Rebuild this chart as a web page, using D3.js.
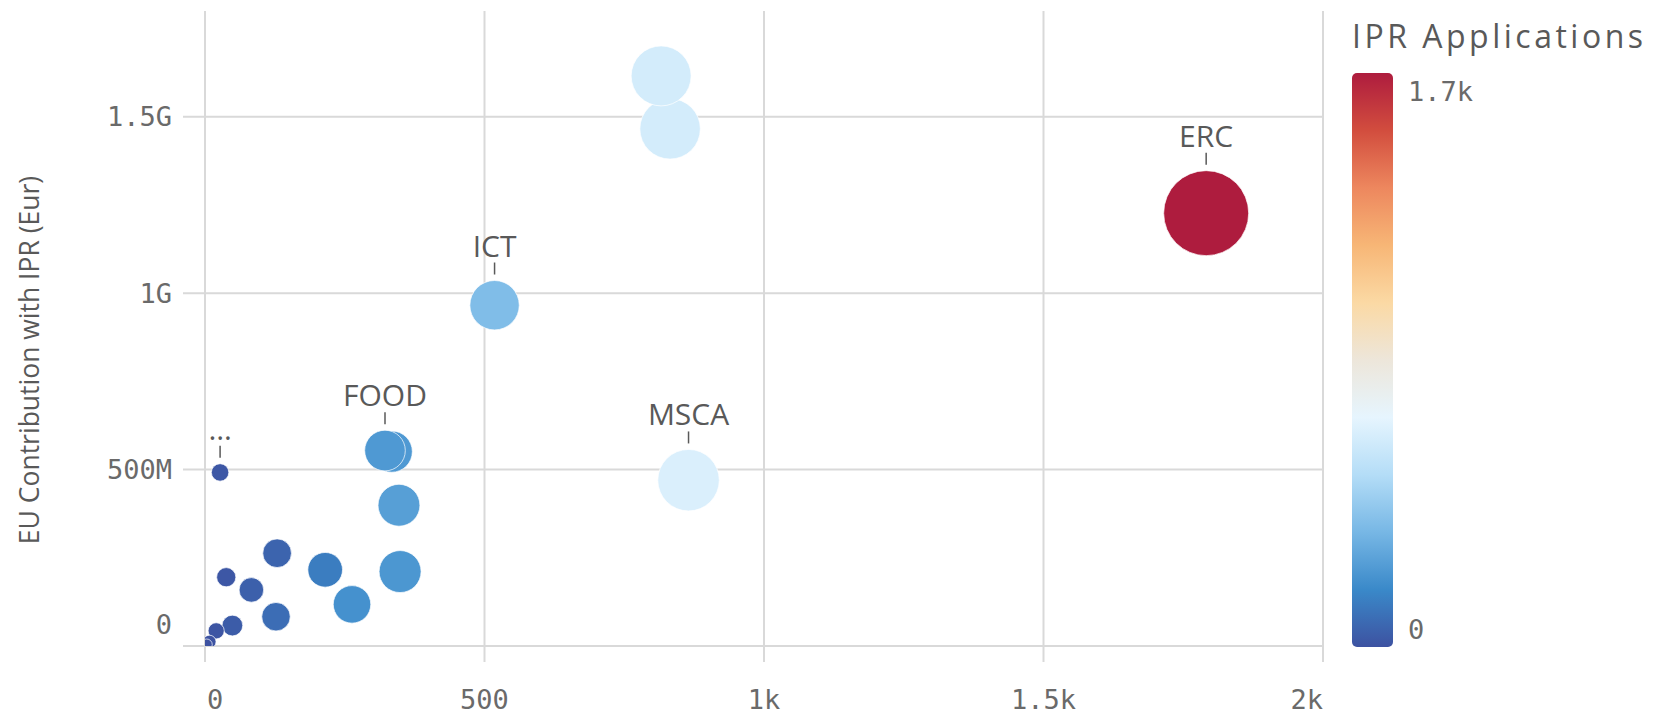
<!DOCTYPE html>
<html>
<head>
<meta charset="utf-8">
<script src="https://cdn.jsdelivr.net/npm/d3@7"></script>
<style>
  html, body { margin: 0; padding: 0; background: #fff; }
  svg { display: block; }
  .grid line { stroke: #d9d9d9; stroke-width: 2; }
  .tick-label { font-family: "DejaVu Sans Mono", monospace; font-size: 27px; fill: #6a6a6a; }
  .bubble-label { font-family: "Open Sans", sans-serif; font-size: 30px; fill: #595959; }
</style>
</head>
<body>
<svg id="chart"></svg>
<script>
// bubbles: x = IPR count (also drives size), y = EU contribution, colour = IPR applications
const labels = ['ERC', 'MSCA', '', '', 'ICT', 'FOOD', '', '', '', '', '', '', '', '', '', '', '', '\u2026', '', ''];
const iprCount = [1791, 865, 816, 832, 518, 322, 334, 347, 349, 263, 215, 129, 127, 83, 38, 49, 20, 27, 8, 3];
const euContribution = [1227e6, 470e6, 1616e6, 1466e6, 966e6, 554e6, 551e6, 399e6, 211e6, 118e6,
  216e6, 263e6, 83e6, 159e6, 195e6, 58e6, 43e6, 492e6, 12e6, 4e6];
const iprApplications = [1700, 640, 615, 615, 365, 228, 228, 250, 220, 200, 133, 56, 83, 42, 15, 30, 10, 15, 3, 1];

const xTicks = [0, 500, 1000, 1500, 2000];
const yTicks = [0, 500e6, 1e9, 1.5e9];
const colorStops = ['#3D52A1', '#3A89C9', '#77B7E5', '#B4DDF7', '#E6F5FE', '#EDE6DA',
  '#FBD9A4', '#F7B676', '#ED875E', '#D24D3E', '#AE1C3E'];
const colorMax = 1700;

const width = 1656, height = 717;
const plot = { left: 205, right: 1323, top: 11, bottom: 646 };

const svg = d3.select('#chart')
  .attr('width', width)
  .attr('height', height)
  .attr('viewBox', `0 0 ${width} ${height}`);

const x = d3.scaleLinear().domain([0, 2000]).range([plot.left, plot.right]);
const y = d3.scaleLinear().domain([0, 1.8e9]).range([plot.bottom, plot.top]);
const r = d3.scaleSqrt().domain([0, d3.max(iprCount)]).range([4, 42.5]);
const color = d3.scaleLinear()
  .domain(colorStops.map((c, i) => i / (colorStops.length - 1) * colorMax))
  .range(colorStops);

const data = iprCount.map((v, i) => ({
  label: labels[i], x: v, y: euContribution[i], c: iprApplications[i]
}));

// grid
const grid = svg.append('g').attr('class', 'grid');
grid.append('g').selectAll('line').data(xTicks).join('line')
  .attr('x1', d => x(d)).attr('x2', d => x(d))
  .attr('y1', plot.top).attr('y2', plot.bottom + 16);
grid.append('g').selectAll('line').data(yTicks).join('line')
  .attr('x1', plot.left - 22).attr('x2', plot.right)
  .attr('y1', d => y(d)).attr('y2', d => y(d));

// axis labels
const fmt = d3.format('~s');
svg.append('g').selectAll('text').data(xTicks).join('text')
  .attr('class', 'tick-label')
  .attr('x', (d, i) => i === 0 ? x(d) + 2 : x(d))
  .attr('y', 700)
  .attr('dy', '0.35em')
  .attr('text-anchor', (d, i) => i === 0 ? 'start' : (i === xTicks.length - 1 ? 'end' : 'middle'))
  .text(d => fmt(d));

svg.append('g').selectAll('text').data(yTicks).join('text')
  .attr('class', 'tick-label')
  .attr('x', 172)
  .attr('y', d => d === 0 ? y(d) - 21 : y(d))
  .attr('dy', '0.35em')
  .attr('text-anchor', 'end')
  .text(d => fmt(d));

svg.append('text')
  .attr('transform', `translate(30, 360) rotate(-90)`)
  .attr('text-anchor', 'middle')
  .attr('dy', '0.35em')
  .style('font-family', '"Open Sans", sans-serif')
  .style('font-size', '26.5px')
  .style('fill', '#595959')
  .text('EU Contribution with IPR (Eur)');

// bubbles
svg.append('defs').append('clipPath').attr('id', 'plot-clip')
  .append('rect')
  .attr('x', plot.left).attr('y', plot.top)
  .attr('width', plot.right - plot.left).attr('height', plot.bottom - plot.top);

const sorted = data.slice().sort((a, b) => b.x - a.x);
svg.append('g').attr('clip-path', 'url(#plot-clip)')
  .selectAll('circle').data(sorted).join('circle')
  .attr('cx', d => x(d.x))
  .attr('cy', d => y(d.y))
  .attr('r', d => r(d.x))
  .attr('fill', d => color(d.c))
  .attr('stroke', '#fff')
  .attr('stroke-opacity', 0.7)
  .attr('stroke-width', 1);

// bubble labels
const lab = svg.append('g').selectAll('g').data(data.filter(d => d.label)).join('g')
  .attr('transform', d => `translate(${x(d.x)}, ${y(d.y) - r(d.x)})`);
lab.append('line')
  .attr('y1', -6).attr('y2', -18)
  .attr('stroke', '#595959').attr('stroke-width', 1.5);
lab.append('text')
  .attr('class', 'bubble-label')
  .attr('y', -24)
  .attr('text-anchor', 'middle')
  .text(d => d.label);

// legend
const legend = { x: 1352, top: 73, bottom: 647, w: 41 };
const grad = svg.select('defs').append('linearGradient')
  .attr('id', 'legend-grad')
  .attr('x1', 0).attr('y1', 1).attr('x2', 0).attr('y2', 0);
grad.selectAll('stop').data(colorStops).join('stop')
  .attr('offset', (d, i) => i / (colorStops.length - 1))
  .attr('stop-color', d => d);

svg.append('rect')
  .attr('x', legend.x).attr('y', legend.top)
  .attr('width', legend.w).attr('height', legend.bottom - legend.top)
  .attr('rx', 5)
  .attr('fill', 'url(#legend-grad)');

svg.append('text')
  .attr('x', legend.x).attr('y', 48)
  .style('font-family', '"Open Sans", sans-serif')
  .style('font-size', '32px')
  .style('letter-spacing', '3.5px')
  .style('fill', '#595959')
  .text('IPR Applications');

const legendScale = d3.scaleLinear().domain([0, colorMax]).range([630, 92]);
svg.append('g').selectAll('text').data([0, colorMax]).join('text')
  .attr('class', 'tick-label')
  .attr('x', 1408)
  .attr('y', d => legendScale(d))
  .attr('dy', '0.35em')
  .text(d => d3.format('.2~s')(d));
</script>
</body>
</html>
